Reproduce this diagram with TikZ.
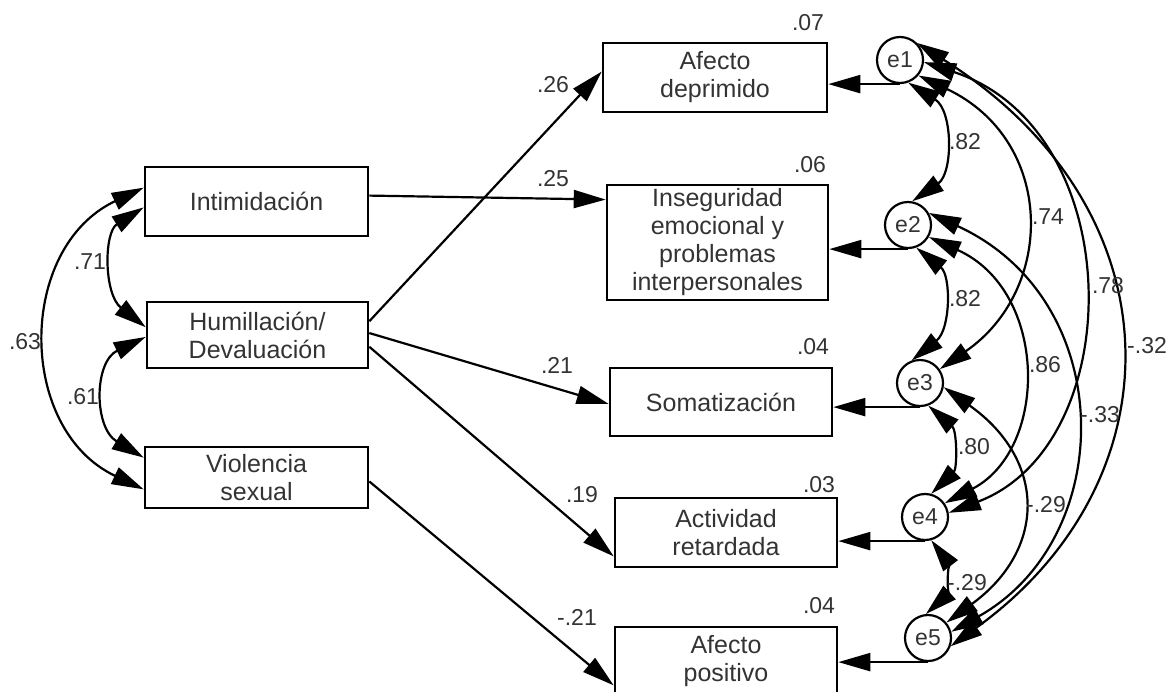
\documentclass[tikz,border=0pt]{standalone}
\usepackage{fontspec}
\setmainfont{Liberation Sans}
\usetikzlibrary{arrows.meta}
\begin{document}
\begin{tikzpicture}[x=1pt,y=-1pt,
  box/.style={draw, line width=2.6pt, inner sep=0pt, align=center,
    font=\fontsize{25}{28}\selectfont, text=black!80},
  err/.style={draw, circle, line width=2.2pt, minimum size=46pt, inner sep=0pt,
    font=\fontsize{23}{24}\selectfont, text=black!80},
  lab/.style={font=\fontsize{23}{24}\selectfont, text=black!80, inner sep=0pt},
  con/.style={line width=2.2pt},
  tip/.style={con, -{Triangle[length=32pt,width=18pt]}},
  dtip/.style={con, {Triangle[length=32pt,width=18pt]}-{Triangle[length=32pt,width=18pt]}}]
\useasboundingbox (0,0) rectangle (1167,691);
\clip (0,0) rectangle (1167,691);

% exogenous boxes
\node[box, minimum width=223pt, minimum height=69pt] (int) at (256.5,201.5) {Intimidación};
\node[box, minimum width=221pt, minimum height=66pt] (hum) at (257.5,335) {Humillación/\\Devaluación};
\node[box, minimum width=223pt, minimum height=61pt] (vio) at (256.5,477.5) {Violencia\\sexual};

% endogenous boxes
\node[box, minimum width=224pt, minimum height=69pt] (ad) at (715,77.5) {Afecto\\deprimido};
\node[box, minimum width=221pt, minimum height=115pt] (ins) at (717.5,242.5) {Inseguridad\\emocional y\\problemas\\interpersonales};
\node[box, minimum width=222pt, minimum height=68pt] (som) at (721,402) {Somatización};
\node[box, minimum width=222pt, minimum height=69pt] (act) at (726,532.5) {Actividad\\retardada};
\node[box, minimum width=222pt, minimum height=69pt] (ap) at (726,661.5) {Afecto\\positivo};

% R2 labels
\node[lab] (r1) at (808,23) {.07};
\node[lab] (r2) at (810,165) {.06};
\node[lab] (r3) at (813,347) {.04};
\node[lab] (r4) at (819,485) {.03};
\node[lab] (r5) at (819,606) {.04};

% error terms
\node[err] (e1) at (900,60) {e1};
\node[err] (e2) at (908,225) {e2};
\node[err] (e3) at (920,383) {e3};
\node[err] (e4) at (925,517) {e4};
\node[err] (e5) at (928,638) {e5};

% error arrows
\draw[tip] (e1.south) -- (e1.south -| ad.east);
\draw[tip] (e2.south) -- (e2.south -| ins.east);
\draw[tip] (e3.south) -- (e3.south -| som.east);
\draw[tip] (e4.south) -- (e4.south -| act.east);
\draw[tip] (e5.south) -- (e5.south -| ap.east);

% regression paths
\draw[tip] (int.3.8) -- (ins.159);
\draw[tip] (hum.7.7) -- (ad.177.2);
\draw[tip] (hum.1.6) -- (som.181.5);
\draw[tip] (hum.-6.7) -- (act.192.4);
\draw[tip] (vio.-2.3) -- (ap.192);

\node[lab] (p1) at (553,85) {.26};
\node[lab] (p2) at (553,179) {.25};
\node[lab] (p3) at (557,365) {.21};
\node[lab] (p4) at (582,495) {.19};
\node[lab] (p5) at (577,617) {-.21};

% covariances among exogenous
\draw[dtip] (int.173) .. controls +(-127,60) and +(-127,-60) .. (vio.186);
\draw[dtip] (int.183) .. controls +(-40,25) and +(-42,-33) .. (hum.176);
\draw[dtip] (hum.181) .. controls +(-52,25) and +(-50,-30) .. (vio.170);
\node[lab] (c63) at (25,342) {.63};
\node[lab] (c71) at (90,262) {.71};
\node[lab] (c61) at (83,397) {.61};

% covariances among errors
\draw[dtip] (e1.-70) .. controls +(45,28) and +(41,-28) .. (e2.80);
\draw[dtip] (e2.-70) .. controls +(35,28) and +(39,-31) .. (e3.110);
\draw[dtip] (e3.-70) .. controls +(29,25) and +(26,-25) .. (e4.75);
\draw[dtip] (e4.-75) .. controls +(16,21) and +(21,-19) .. (e5.95);
\draw[dtip] (e1.-40) .. controls +(137,65) and +(116,-80) .. (e3.35);
\draw[dtip] (e1.-5) .. controls +(205,68) and +(181,-69) .. (e4.10);
\draw[dtip] (e1.45) .. controls +(263,166) and +(230,-166) .. (e5.-20);
\draw[dtip] (e2.-30) .. controls +(120,54) and +(104,-54) .. (e4.35);
\draw[dtip] (e2.30) .. controls +(190,87) and +(167,-94) .. (e5.15);
\draw[dtip] (e3.-10) .. controls +(103,73) and +(100,-73) .. (e5.40);

\node[lab] (k12) at (965,142) {.82};
\node[lab] (k23) at (965,299) {.82};
\node[lab] (k34) at (974,447) {.80};
\node[lab] (k45) at (967,583) {-.29};
\node[lab] (k13) at (1048,217) {.74};
\node[lab] (k14) at (1108,286) {.78};
\node[lab] (k15) at (1147,346) {-.32};
\node[lab] (k24) at (1045,365) {.86};
\node[lab] (k25) at (1100,415) {-.33};
\node[lab] (k35) at (1046,505) {-.29};
\end{tikzpicture}
\end{document}
